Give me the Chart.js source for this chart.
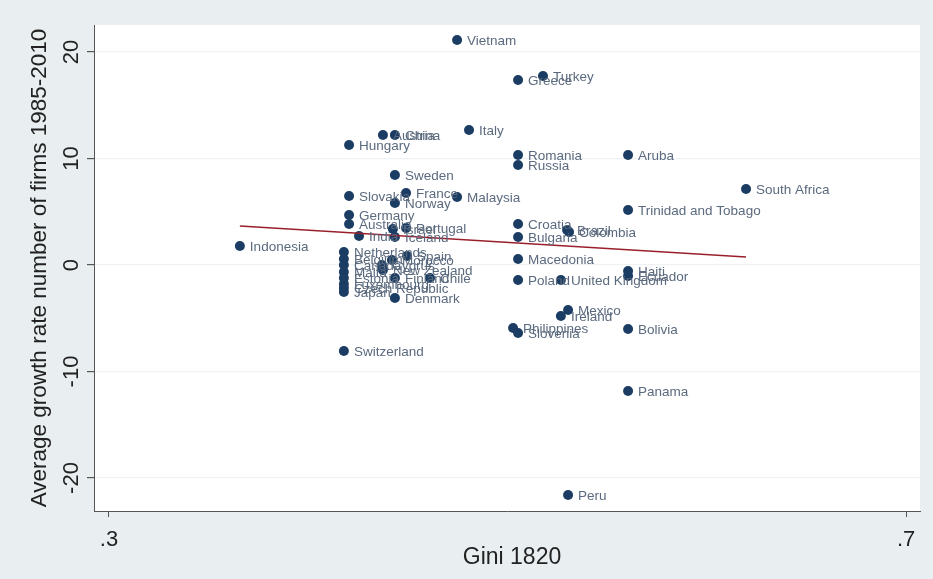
<!DOCTYPE html>
<html>
<head>
<meta charset="utf-8">
<script src="https://cdn.jsdelivr.net/npm/chart.js@4.4.1/dist/chart.umd.min.js"></script>
<style>
  html, body { margin: 0; padding: 0; background: #e9eff1; }
  #wrap { width: 933px; height: 579px; }
</style>
</head>
<body>
<div id="wrap"><canvas id="chart" width="933" height="579"></canvas></div>
<script>
// data
const countries = ['Vietnam', 'Turkey', 'Greece', 'Italy', 'Austria', 'China', 'Hungary', 'Romania', 'Russia', 'Aruba',
  'Sweden', 'South Africa', 'Slovakia', 'France', 'Norway', 'Malaysia', 'Trinidad and Tobago', 'Germany', 'Australia', 'Israel',
  'Portugal', 'India', 'Iceland', 'Croatia', 'Brazil', 'Colombia', 'Bulgaria', 'Indonesia', 'Netherlands', 'Spain',
  'Belgium', 'Morocco', 'Cyprus', 'New Zealand', 'Canada', 'Malta', 'Estonia', 'Luxembourg', 'Czech Republic', 'Japan',
  'Finland', 'Chile', 'Denmark', 'Macedonia', 'Poland', 'United Kingdom', 'Haiti', 'Ecuador', 'Mexico', 'Ireland',
  'Philippines', 'Slovenia', 'Bolivia', 'Switzerland', 'Panama', 'Peru'];
const gini1820 = [0.4747, 0.5178, 0.5053, 0.4807, 0.4375, 0.4435, 0.4205, 0.5053, 0.5053, 0.5605,
  0.4435, 0.6197, 0.4205, 0.4491, 0.4435, 0.4747, 0.5605, 0.4205, 0.4205, 0.4425,
  0.4491, 0.4255, 0.4435, 0.5053, 0.5299, 0.5309, 0.5053, 0.3657, 0.4179, 0.4496,
  0.4179, 0.4420, 0.4370, 0.4375, 0.4179, 0.4179, 0.4179, 0.4179, 0.4179, 0.4179,
  0.4435, 0.4611, 0.4435, 0.5053, 0.5053, 0.5268, 0.5605, 0.5605, 0.5304, 0.5268,
  0.5028, 0.5053, 0.5605, 0.4179, 0.5605, 0.5304];
const growth = [21.13, 17.75, 17.37, 12.68, 12.21, 12.21, 11.27, 10.33, 9.39, 10.33,
  8.45, 7.14, 6.48, 6.76, 5.82, 6.38, 5.16, 4.69, 3.85, 3.38,
  3.47, 2.72, 2.63, 3.85, 3.29, 3.10, 2.63, 1.78, 1.22, 0.85,
  0.56, 0.47, 0.00, -0.47, 0.00, -0.66, -1.22, -1.78, -2.16, -2.54,
  -1.22, -1.22, -3.10, 0.56, -1.41, -1.41, -0.56, -1.03, -4.23, -4.79,
  -5.92, -6.38, -6.01, -8.08, -11.83, -21.6];
const fitX = [0.3657, 0.6197];
const fitY = [3.66, 0.75];
const xTicks = [0.3, 0.7];
const xTickLabels = ['.3', '.7'];
const yTicks = [-20, -10, 0, 10, 20];

const points = gini1820.map((x, i) => ({ x: x, y: growth[i] }));
const fitLine = fitX.map((x, i) => ({ x: x, y: fitY[i] }));

// backgrounds, country labels, rotated tick labels and axis titles
const decorations = {
  id: 'decorations',
  beforeDraw(chart) {
    const ctx = chart.ctx;
    const a = chart.chartArea;
    ctx.save();
    ctx.fillStyle = '#e9eff1';
    ctx.fillRect(0, 0, chart.width, chart.height);
    ctx.fillStyle = '#ffffff';
    ctx.fillRect(a.left, a.top, a.right - a.left, a.bottom - a.top);
    ctx.restore();
  },
  afterDatasetsDraw(chart) {
    const ctx = chart.ctx;
    const meta = chart.getDatasetMeta(1);
    ctx.save();
    ctx.font = '13.5px "Liberation Sans", Arial, sans-serif';
    ctx.fillStyle = '#5b6a7e';
    ctx.textBaseline = 'middle';
    meta.data.forEach((pt, i) => {
      ctx.fillText(countries[i], pt.x + 10, pt.y + 1);
    });
    ctx.restore();
  },
  afterDraw(chart) {
    const ctx = chart.ctx;
    const xs = chart.scales.x;
    const ys = chart.scales.y;
    ctx.save();
    ctx.fillStyle = '#222';
    ctx.font = '22px "Liberation Sans", Arial, sans-serif';
    ctx.textAlign = 'center';
    ctx.textBaseline = 'middle';
    xTicks.forEach((v, i) => {
      ctx.fillText(xTickLabels[i], xs.getPixelForValue(v), 540);
    });
    yTicks.forEach(v => {
      ctx.save();
      ctx.translate(72, ys.getPixelForValue(v));
      ctx.rotate(-Math.PI / 2);
      ctx.fillText(String(v), 0, 0);
      ctx.restore();
    });
    ctx.font = '23px "Liberation Sans", Arial, sans-serif';
    ctx.fillText('Gini 1820', 512, 558);
    ctx.save();
    ctx.translate(40, 268);
    ctx.rotate(-Math.PI / 2);
    ctx.font = '22.5px "Liberation Sans", Arial, sans-serif';
    ctx.fillText('Average growth rate number of firms 1985-2010', 0, 0);
    ctx.restore();
    ctx.restore();
  }
};

new Chart(document.getElementById('chart'), {
  type: 'scatter',
  data: {
    datasets: [
      {
        type: 'line',
        data: fitLine,
        borderColor: '#9a1f2c',
        borderWidth: 1.4,
        pointRadius: 0,
        fill: false,
        order: 0
      },
      {
        data: points,
        backgroundColor: '#1c3d63',
        borderColor: '#1c3d63',
        pointRadius: 5,
        borderWidth: 0,
        order: 1
      }
    ]
  },
  options: {
    responsive: false,
    animation: false,
    layout: { padding: { left: 0, right: 13, top: 25, bottom: 0 } },
    plugins: { legend: { display: false }, tooltip: { enabled: false } },
    scales: {
      x: {
        type: 'linear',
        min: 0.2925,
        max: 0.707,
        afterBuildTicks: s => { s.ticks = xTicks.map(v => ({ value: v })); },
        afterFit: s => { s.height = 68; },
        ticks: { display: false },
        grid: { color: 'rgba(0,0,0,0)', tickColor: '#555', tickLength: 6, drawOnChartArea: false },
        border: { display: true, color: '#555', width: 1 }
      },
      y: {
        type: 'linear',
        min: -23.1,
        max: 22.54,
        afterBuildTicks: s => { s.ticks = yTicks.map(v => ({ value: v })); },
        afterFit: s => { s.width = 94; },
        ticks: { display: false },
        grid: { color: '#eef2f4', lineWidth: 1.2, tickColor: '#555', tickLength: 7 },
        border: { display: true, color: '#555', width: 1 }
      }
    }
  },
  plugins: [decorations]
});
</script>
</body>
</html>
